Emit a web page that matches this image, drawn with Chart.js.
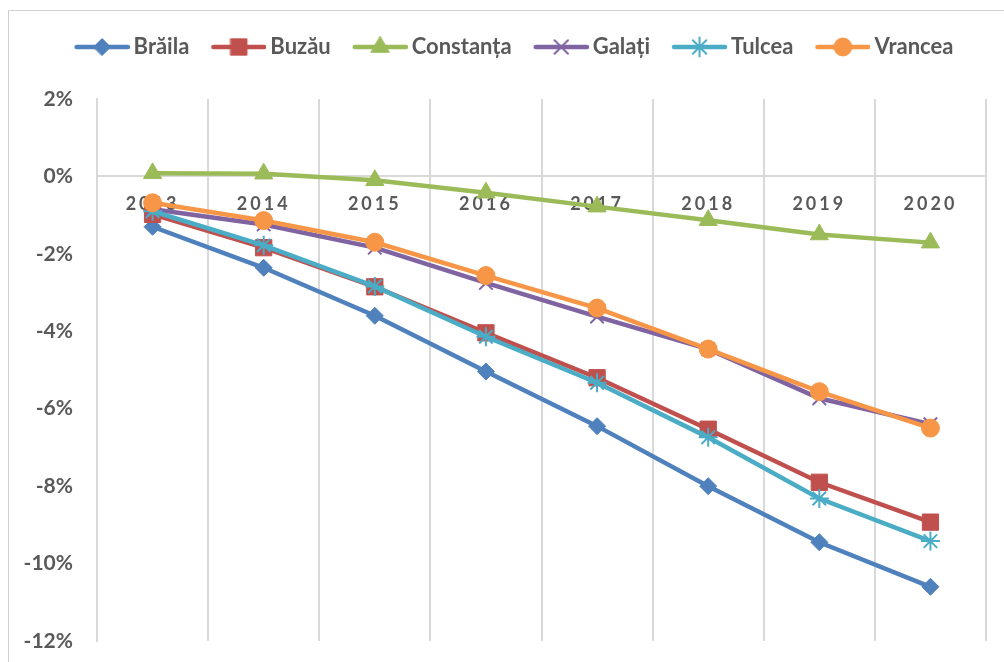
<!DOCTYPE html>
<html>
<head>
<meta charset="utf-8">
<script src="https://cdn.jsdelivr.net/npm/chart.js@4.4.0/dist/chart.umd.min.js"></script>
<style>
html,body{margin:0;padding:0;background:#fff;overflow:hidden}
#wrap{position:relative;width:1004px;height:662px;overflow:hidden}
#frame{position:absolute;left:8px;top:10px;width:1100px;height:800px;border:1px solid #d0d0d0;box-sizing:border-box}
canvas{position:absolute;left:0;top:0}
</style>
</head>
<body>
<div id="wrap"><div id="frame"></div><canvas id="c" width="1004" height="662"></canvas></div>
<script>
// ---- data ----
const years = ['2013', '2014', '2015', '2016', '2017', '2018', '2019', '2020'];
const seriesNames = ['Brăila', 'Buzău', 'Constanța', 'Galați', 'Tulcea', 'Vrancea'];
const braila    = [-1.30, -2.36, -3.60, -5.04, -6.45, -8.00, -9.45, -10.60];
const buzau     = [-0.98, -1.84, -2.85, -4.04, -5.20, -6.53, -7.90, -8.93];
const constanta = [ 0.08,  0.07, -0.10, -0.42, -0.78, -1.13, -1.50, -1.71];
const galati    = [-0.85, -1.24, -1.84, -2.75, -3.62, -4.46, -5.73, -6.40];
const tulcea    = [-0.90, -1.78, -2.84, -4.14, -5.33, -6.74, -8.32, -9.42];
const vrancea   = [-0.68, -1.14, -1.70, -2.56, -3.40, -4.46, -5.56, -6.50];
const yTicks    = [2, 0, -2, -4, -6, -8, -10, -12];

// ---- styles ----
const colors  = ['#4F81BD', '#C0504D', '#9BBB59', '#8064A2', '#4BACC6', '#F79646'];
const markers = ['rectRot', 'rect', 'triangle', 'crossRot', 'star', 'circle'];
const radii   = [8.5, 11.5, 10.5, 9.5, 9.5, 9];
const filled  = [true, true, true, false, false, true];
const allData = [braila, buzau, constanta, galati, tulcea, vrancea];

const FONT = 'Lato, "Liberation Sans", sans-serif';
const TEXT = '#595959';
const GRID = '#d9d9d9';
const LEG_FS = 22;
const PAD_L = 30, PAD_R = 18, PAD_T = 26, PAD_B = 21;

// legend geometry
const LEG_P = 10, LINE_LEN = 55, TEXT_GAP = 4, ITEM_GAP = 22;
const BOX_W = ITEM_GAP + LINE_LEN + TEXT_GAP - LEG_FS / 2 - LEG_P;
const EXT = LEG_FS / 2 - TEXT_GAP;

function drawMarker(ctx, i, x, y) {
  ctx.save();
  ctx.fillStyle = colors[i];
  ctx.strokeStyle = colors[i];
  ctx.lineWidth = filled[i] ? 1 : 2;
  Chart.helpers.drawPoint(ctx, {pointStyle: markers[i], radius: radii[i], rotation: 0, borderWidth: ctx.lineWidth}, x, y);
  ctx.restore();
}

function legendIcon(i) {
  const c = document.createElement('canvas');
  const w = BOX_W + 2 * EXT, h = 26;
  c.width = w; c.height = h;
  const ctx = c.getContext('2d');
  ctx.strokeStyle = colors[i];
  ctx.lineWidth = 4.5;
  ctx.lineCap = 'round';
  ctx.beginPath();
  ctx.moveTo(w - LINE_LEN + 2, h / 2);
  ctx.lineTo(w - 2, h / 2);
  ctx.stroke();
  drawMarker(ctx, i, w - LINE_LEN / 2, h / 2);
  return c;
}

const datasets = seriesNames.map((name, i) => ({
  label: name,
  data: allData[i],
  borderColor: colors[i],
  backgroundColor: colors[i],
  borderWidth: 4.5,
  pointStyle: markers[i],
  pointRadius: radii[i],
  pointHoverRadius: radii[i],
  pointBorderWidth: filled[i] ? 1 : 2,
  pointBackgroundColor: colors[i],
  pointBorderColor: colors[i],
  tension: 0,
  order: seriesNames.length - i
}));

const icons = seriesNames.map((_, i) => legendIcon(i));

const patchPlugin = {
  id: 'patches',
  beforeUpdate(chart) {
    const lg = chart.legend;
    if (lg && !lg._hp) {
      const f = lg.fit;
      lg.fit = function () { f.call(this); this.height = 99 - PAD_T; };
      lg._hp = true;
    }
  },
  beforeDraw(chart) {
    const s = chart.scales.x;
    if (s && !s._lsPatched) {
      const orig = s.drawLabels;
      s.drawLabels = function (area) {
        const ctx = this.ctx;
        ctx.save();
        ctx.letterSpacing = '3px';
        orig.call(this, area);
        ctx.restore();
      };
      s._lsPatched = true;
    }
    const y = chart.scales.y;
    if (y) { y._computeLabelArea = function () { return undefined; }; }
  }
};

new Chart(document.getElementById('c'), {
  type: 'line',
  data: { labels: years, datasets },
  plugins: [patchPlugin],
  options: {
    responsive: false,
    animation: false,
    devicePixelRatio: 1,
    layout: { padding: { left: PAD_L, right: PAD_R, top: PAD_T, bottom: PAD_B }, autoPadding: false },
    plugins: {
      tooltip: { enabled: false },
      legend: {
        position: 'top',
        align: 'center',
        labels: {
          usePointStyle: true,
          pointStyleWidth: BOX_W,
          padding: LEG_P,
          color: TEXT,
          font: { family: FONT, size: LEG_FS, weight: 'bold' },
          generateLabels: () => seriesNames.map((n, i) => ({
            text: n,
            fillStyle: colors[i],
            strokeStyle: colors[i],
            lineWidth: 0,
            pointStyle: icons[i],
            hidden: false,
            datasetIndex: i,
            fontColor: TEXT
          }))
        }
      }
    },
    scales: {
      x: {
        position: { y: 0 },
        offset: true,
        afterFit: (s) => { s.height = 0; s.paddingTop = 0; s.paddingBottom = 0; },
        grid: { display: true, offset: true, color: GRID, lineWidth: 2, drawTicks: false },
        border: { display: true, color: GRID, width: 2 },
        ticks: { color: TEXT, padding: 17, maxRotation: 0, font: { family: FONT, size: 18, weight: 'bold' } }
      },
      y: {
        min: -12,
        max: 2,
        afterFit: (s) => { s.width = 97 - PAD_L; s.paddingTop = 0; s.paddingBottom = 0; },
        afterBuildTicks: (s) => { s.ticks = yTicks.map(v => ({ value: v })); },
        grid: { display: false, drawTicks: false },
        border: { display: true, color: GRID, width: 2 },
        ticks: {
          color: TEXT,
          padding: 24,
          font: { family: FONT, size: 21, weight: 'bold' },
          callback: (v) => v + '%'
        }
      }
    }
  }
});
</script>
</body>
</html>
